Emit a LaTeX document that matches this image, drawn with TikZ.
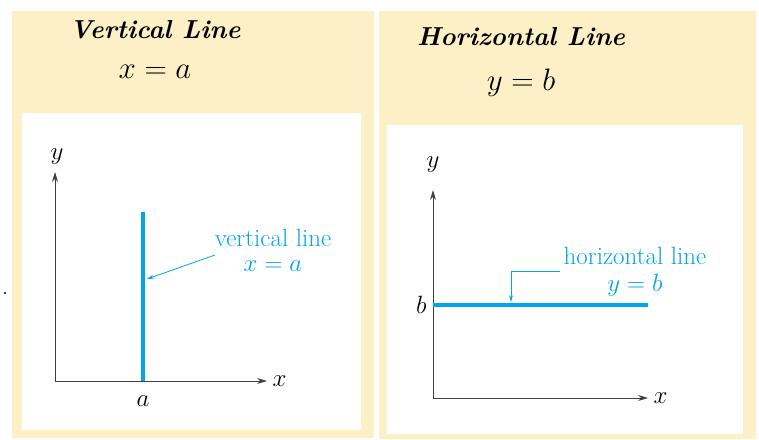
\RequirePackage{fix-cm}
\documentclass[tikz,border=0pt]{standalone}
\usepackage{amsmath}
\usetikzlibrary{calc,arrows.meta}

\definecolor{panelbg}{RGB}{253,240,199}
\definecolor{lineblue}{RGB}{0,166,230}

\tikzset{
  axis/.style={draw=black!75, line width=0.9pt, -{Stealth[length=10pt,width=6pt]}},
  txt/.style={font=\fontsize{25}{30}\selectfont},
  eqn/.style={font=\fontsize{31}{36}\selectfont},
  title/.style={font=\fontsize{26}{31}\selectfont\bfseries\itshape},
}

\begin{document}
\begin{tikzpicture}[x=1pt, y=-1pt]
  \useasboundingbox (0,0) rectangle (759,439);
  \fill[white] (0,0) rectangle (759,439);

  % panels
  \fill[panelbg] (12,11) rectangle (374,438);
  \fill[panelbg] (379,11) rectangle (756,439);
  \fill[white] (22,113) rectangle (361,430);
  \fill[white] (387,125) rectangle (743,434);

  % left: vertical line
  \coordinate (O1) at (55,381);
  \coordinate (X1) at (267,381);
  \coordinate (Y1) at (55,172);
  \coordinate (A) at (143,381);
  \coordinate (Atop) at (143,212);
  \coordinate (Vtip) at (147,279);
  \coordinate (Vtail) at (215,255);

  \node[title] (t1) at (155,30) {Vertical Line};
  \node[eqn] (e1) at (155,72) {$x = a$};

  \draw[axis] (O1)--(X1);
  \draw[axis] (O1)--(Y1);
  \draw[lineblue, line width=4pt] (A)--(Atop);
  \draw[lineblue, line width=0.8pt, -{Stealth[length=7pt,width=4pt]}] (Vtail)--(Vtip);

  \node[txt, right] (x1) at (269,381) {$x$};
  \node[txt] (y1) at (57,157) {$y$};
  \node[txt] (a1) at (143,401) {$a$};
  \node[txt, lineblue] (v1) at (273,238) {vertical line};
  \node[txt, lineblue] (v2) at (273,266) {$x = a$};
  \fill (5,293) circle (1.2pt);

  % right: horizontal line
  \coordinate (O2) at (433,398);
  \coordinate (X2) at (648,398);
  \coordinate (Y2) at (433,190);
  \coordinate (B) at (433,305);
  \coordinate (Bend) at (648,305);
  \coordinate (Htail) at (560,271);
  \coordinate (Hbend) at (511,271);
  \coordinate (Htip) at (511,302);

  \node[title] (t2) at (521,37) {Horizontal Line};
  \node[eqn] (e2) at (521,83) {$y = b$};

  \draw[axis] (O2)--(X2);
  \draw[axis] (O2)--(Y2);
  \draw[lineblue, line width=4pt] (B)--(Bend);
  \draw[lineblue, line width=0.8pt, -{Stealth[length=7pt,width=4pt]}] (Htail)--(Hbend)--(Htip);

  \node[txt, right] (x2) at (650,398) {$x$};
  \node[txt] (y2) at (433,165) {$y$};
  \node[txt, left] (b2) at (430,305) {$b$};
  \node[txt, lineblue] (h1) at (635,256) {horizontal line};
  \node[txt, lineblue] (h2) at (635,285) {$y = b$};
\end{tikzpicture}
\end{document}
